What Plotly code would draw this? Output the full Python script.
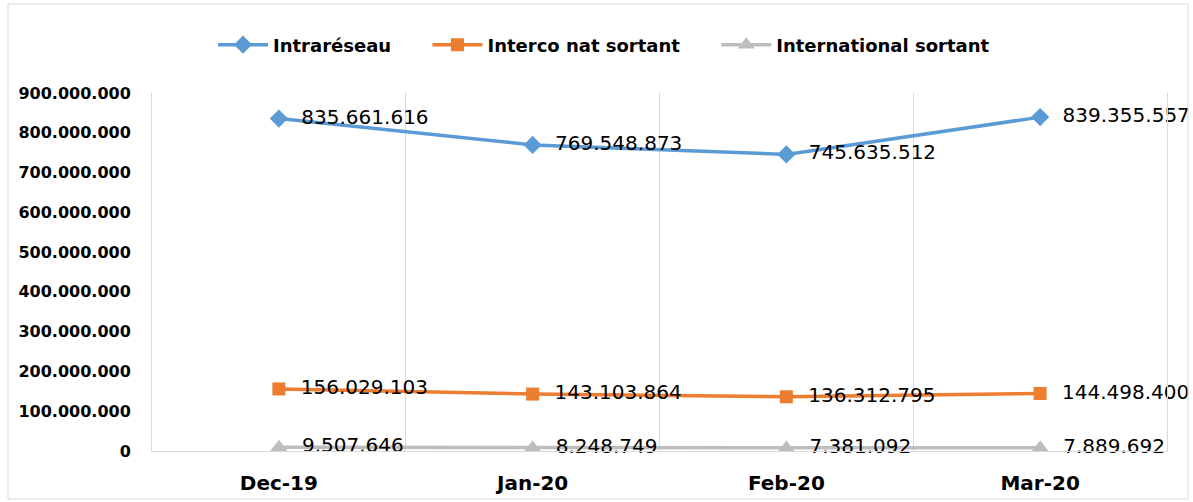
import plotly.graph_objects as go

months = ["Dec-19", "Jan-20", "Feb-20", "Mar-20"]
intrareseau = [835661616, 769548873, 745635512, 839355557]
interco = [156029103, 143103864, 136312795, 144498400]
international = [9507646, 8248749, 7381092, 7889692]
y_ticks = [0, 100000000, 200000000, 300000000, 400000000, 500000000,
           600000000, 700000000, 800000000, 900000000]

def fmt(v):
    return f"{v:,}".replace(",", ".")

NB = "\u00a0"
series = [
    ("Intraréseau", intrareseau, "#5B9BD5", "diamond", 14),
    ("Interco nat sortant", interco, "#ED7D31", "square", 13),
    ("International sortant", international, "#BDBDBD", "triangle-up", 15),
]

L, R, T, B = 152, 26, 93, 51
W, H = 1193, 502
PW, PH = W - L - R, H - T - B

fig = go.Figure()
for i, (name, vals, color, sym, size) in enumerate(series):
    fig.add_trace(go.Scatter(
        x=months, y=vals, name=name + (NB * 5 if i < 2 else ""),
        mode="lines+markers+text",
        line=dict(color=color, width=3.5),
        marker=dict(symbol=sym, size=size, color=color),
        text=[NB * 2 + fmt(v) for v in vals], textposition="middle right",
        textfont=dict(size=20, color="#000000", family="DejaVu Sans"),
        cliponaxis=False,
    ))

fig.update_layout(
    width=W, height=H,
    margin=dict(l=L, r=R, t=T, b=B, autoexpand=False),
    paper_bgcolor="white", plot_bgcolor="white",
    font=dict(family="DejaVu Sans", color="#000000"),
    legend=dict(orientation="h", x=604 / W, xanchor="center", xref="container",
                y=1 - 45 / H, yanchor="middle", yref="container",
                font=dict(size=18, family="DejaVu Sans", weight="bold"),
                itemwidth=50, traceorder="normal"),
    showlegend=True,
)
fig.update_xaxes(
    type="category", tickson="boundaries", showgrid=True, gridcolor="#D9D9D9",
    gridwidth=1, showline=True, linecolor="#D9D9D9", ticks="",
    range=[-0.5, 3.5], zeroline=False, automargin=False,
    ticklabelstandoff=14,
    tickfont=dict(size=20, family="DejaVu Sans", weight="bold"),
)
fig.update_yaxes(
    range=[0, 900000000], tickvals=y_ticks, ticktext=[fmt(v) for v in y_ticks],
    showgrid=False, zeroline=False, showline=True, linecolor="#D9D9D9",
    mirror=True, ticks="",
    automargin=False, ticklabelstandoff=17,
    tickfont=dict(size=16, family="DejaVu Sans", weight="bold"),
)
fig.add_shape(type="rect", xref="paper", yref="paper",
              x0=(8 - L) / PW, x1=(1188 - L) / PW,
              y0=(H - B - 499) / PH, y1=(H - B - 4) / PH,
              line=dict(color="#D9D9D9", width=1))
fig.write_html("out.html", config={"displayModeBar": False},
               post_script="document.body.style.margin='0px';document.body.style.overflow='hidden';")
